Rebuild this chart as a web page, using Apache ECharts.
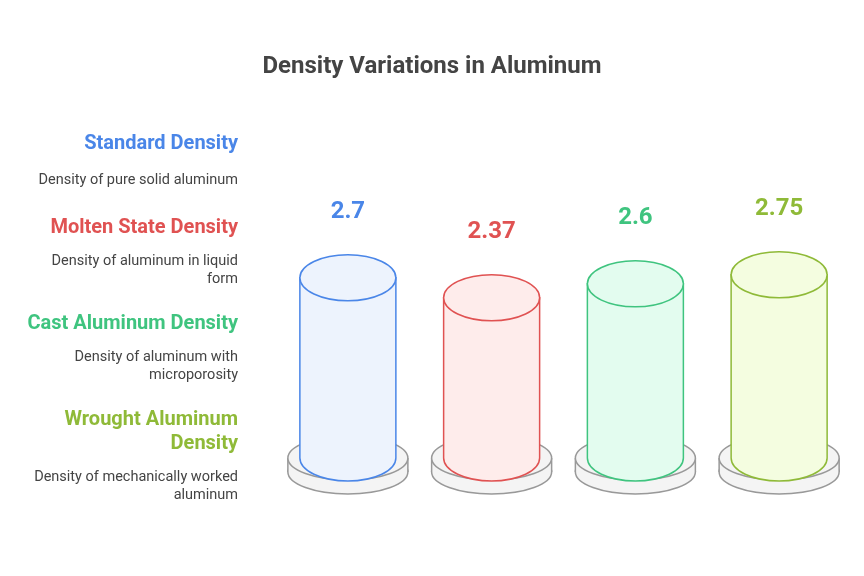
<!DOCTYPE html><html><head><meta charset="utf-8"><script src="https://cdn.jsdelivr.net/npm/echarts@6/dist/echarts.min.js"></script></head><body style="margin:0"><div id="c" style="width:864px;height:576px"></div><script>
const categories=['Standard Density','Molten State Density','Cast Aluminum Density','Wrought Aluminum Density'];
const values=[2.7,2.37,2.6,2.75];
const descriptions=['Density of pure solid aluminum','Density of aluminum in liquid\nform','Density of aluminum with\nmicroporosity','Density of mechanically worked\naluminum'];
const titleLines=['Standard Density','Molten State Density','Cast Aluminum Density','Wrought Aluminum\nDensity'];
const strokes=['#4a86e8','#e05252','#3fc47f','#8fba38'];
const fills=['#edf3fd','#feeceb','#e3fcef','#f4fde0'];
const ch=echarts.init(document.getElementById('c'));
const g=[];
const ty=[144,228,324,420],dy=[180,261,357,477];
for(let i=0;i<4;i++){
 g.push({type:'text',style:{x:238,y:ty[i],text:titleLines[i],fill:strokes[i],font:'bold 20px Roboto',align:'right',verticalAlign:'middle',lineHeight:24}});
 g.push({type:'text',style:{x:238,y:dy[i],text:descriptions[i],fill:'#444',font:'14.5px Roboto',align:'right',verticalAlign:'middle',lineHeight:18}});
}
g.forEach(e=>{ if(e.style.text.includes('\n')){ /* anchor first line */ const n=e.style.text.split('\n').length; e.style.y+= (n-1)*e.style.lineHeight/2; } });
ch.setOption({
 title:{text:'Density Variations in Aluminum',left:'center',top:50,textStyle:{fontSize:24,fontWeight:'bold',color:'#444',fontFamily:'Roboto'}},
 graphic:g,
 grid:{left:276,right:13,top:100,bottom:135},
 xAxis:{type:'category',data:categories,show:false},
 yAxis:{type:'value',min:0,max:5.64,show:false},
 series:[{type:'custom',data:values.map((v,i)=>[i,v]),renderItem:(p,api)=>{
  const i=api.value(0),top=api.coord([i,api.value(1)]),z=api.coord([i,0]);
  const cx=top[0],ty=top[1],by=z[1]+17,rx=48,ry=23,s=strokes[i],f=fills[i];
  const gray={fill:'#f4f4f4',stroke:'#999',lineWidth:1.5};
  return {type:'group',children:[
   {type:'ellipse',shape:{cx,cy:by+14,rx:60,ry:22},style:gray},
   {type:'rect',shape:{x:cx-60,y:by,width:120,height:14},style:{fill:'#f4f4f4'}},
   {type:'line',shape:{x1:cx-60,y1:by,x2:cx-60,y2:by+14},style:{stroke:'#999',lineWidth:1.5}},
   {type:'line',shape:{x1:cx+60,y1:by,x2:cx+60,y2:by+14},style:{stroke:'#999',lineWidth:1.5}},
   {type:'ellipse',shape:{cx,cy:by,rx:60,ry:22},style:gray},
   {type:'path',shape:{pathData:`M${cx-rx} ${ty} L${cx-rx} ${by} A${rx} ${ry} 0 0 0 ${cx+rx} ${by} L${cx+rx} ${ty} Z`},style:{fill:f,stroke:s,lineWidth:1.5}},
   {type:'ellipse',shape:{cx,cy:ty,rx,ry},style:{fill:f,stroke:s,lineWidth:1.5}},
   {type:'text',style:{text:String(api.value(1)),x:cx,y:ty-66,align:'center',verticalAlign:'middle',fill:s,font:'bold 24px Roboto'}}
  ]};
 }}]
});
</script></body></html>
